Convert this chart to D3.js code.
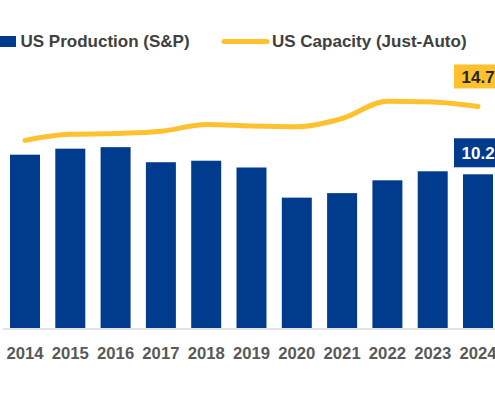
<!DOCTYPE html>
<html>
<head>
<meta charset="utf-8">
<script src="https://cdn.jsdelivr.net/npm/d3@7"></script>
<style>
  html, body { margin: 0; padding: 0; background: #fff; }
  svg { display: block; }
</style>
</head>
<body>
<svg id="chart"></svg>
<script>
// values (million units)
const years = ["2014", "2015", "2016", "2017", "2018", "2019", "2020", "2021", "2022", "2023", "2024"];
const production = [11.5, 11.9, 12.0, 11.0, 11.1, 10.65, 8.65, 8.95, 9.8, 10.4, 10.2];
const capacity = [12.45, 12.85, 12.9, 13.05, 13.5, 13.4, 13.35, 13.9, 15.05, 15.0, 14.7];
const legendLabels = ["US Production (S&P)", "US Capacity (Just-Auto)"];

const width = 495;
const height = 400;
const navy = "#003B8E";
const gold = "#FFC12E";
const font = "'Liberation Sans', Arial, sans-serif";

const svg = d3.select("#chart")
  .attr("width", width)
  .attr("height", height);

svg.append("rect")
  .attr("width", width)
  .attr("height", height)
  .attr("fill", "#fff");

const x = d3.scaleBand()
  .domain(years)
  .range([2.35, 500.65])
  .paddingInner(0.338)
  .paddingOuter(0.169);

const y = d3.scaleLinear()
  .domain([0, 16])
  .range([328, 328 - 16 * 15.07]);

const cx = (d) => x(d) + x.bandwidth() / 2;

// bars
svg.append("g")
  .selectAll("rect")
  .data(years)
  .join("rect")
  .attr("x", (d) => x(d))
  .attr("y", (d, i) => y(production[i]))
  .attr("width", x.bandwidth())
  .attr("height", (d, i) => y(0) - y(production[i]))
  .attr("fill", navy);

// baseline + year labels
const xAxis = svg.append("g")
  .attr("transform", `translate(0,${y(0) + 1})`)
  .call(d3.axisBottom(x).tickSize(0).tickPadding(18));
xAxis.select(".domain")
  .attr("d", `M3,0H${width}`)
  .attr("stroke", "#d9d9d9")
  .attr("stroke-width", 1.5);
xAxis.selectAll("text")
  .attr("font-family", font)
  .attr("font-size", "16.7px")
  .attr("font-weight", "bold")
  .attr("fill", "#595959");

// capacity line
const line = d3.line()
  .x((d, i) => cx(years[i]))
  .y((d) => y(d))
  .curve(d3.curveMonotoneX);

svg.append("path")
  .datum(capacity)
  .attr("d", line)
  .attr("fill", "none")
  .attr("stroke", gold)
  .attr("stroke-width", 5)
  .attr("stroke-linecap", "round")
  .attr("stroke-linejoin", "round");

// end-value labels
const last = years.length - 1;
const lx = cx(years[last]) - 24;

const capY = y(capacity[last]);
svg.append("rect")
  .attr("x", lx)
  .attr("y", capY - 42)
  .attr("width", 60)
  .attr("height", 24)
  .attr("fill", gold);
svg.append("text")
  .attr("x", lx + 7.5)
  .attr("y", capY - 23.5)
  .attr("font-family", font)
  .attr("font-size", "17px")
  .attr("font-weight", "bold")
  .attr("fill", "#262626")
  .text(capacity[last].toFixed(1));

const prodY = y(production[last]);
svg.append("rect")
  .attr("x", lx)
  .attr("y", prodY - 36)
  .attr("width", 60)
  .attr("height", 29)
  .attr("fill", navy);
svg.append("text")
  .attr("x", lx + 7.5)
  .attr("y", prodY - 15)
  .attr("font-family", font)
  .attr("font-size", "17px")
  .attr("font-weight", "bold")
  .attr("fill", "#fff")
  .text(production[last].toFixed(1));

// legend
const legend = svg.append("g");
legend.append("rect")
  .attr("x", 0)
  .attr("y", 36)
  .attr("width", 16)
  .attr("height", 11)
  .attr("fill", navy);
legend.append("text")
  .attr("x", 20.5)
  .attr("y", 47)
  .attr("font-family", font)
  .attr("font-size", "17px")
  .attr("font-weight", "bold")
  .attr("fill", "#404040")
  .text(legendLabels[0]);
legend.append("line")
  .attr("x1", 224)
  .attr("x2", 267)
  .attr("y1", 41.5)
  .attr("y2", 41.5)
  .attr("stroke", gold)
  .attr("stroke-width", 5)
  .attr("stroke-linecap", "round");
legend.append("text")
  .attr("x", 272)
  .attr("y", 47)
  .attr("font-family", font)
  .attr("font-size", "17px")
  .attr("font-weight", "bold")
  .attr("fill", "#404040")
  .text(legendLabels[1]);
</script>
</body>
</html>
